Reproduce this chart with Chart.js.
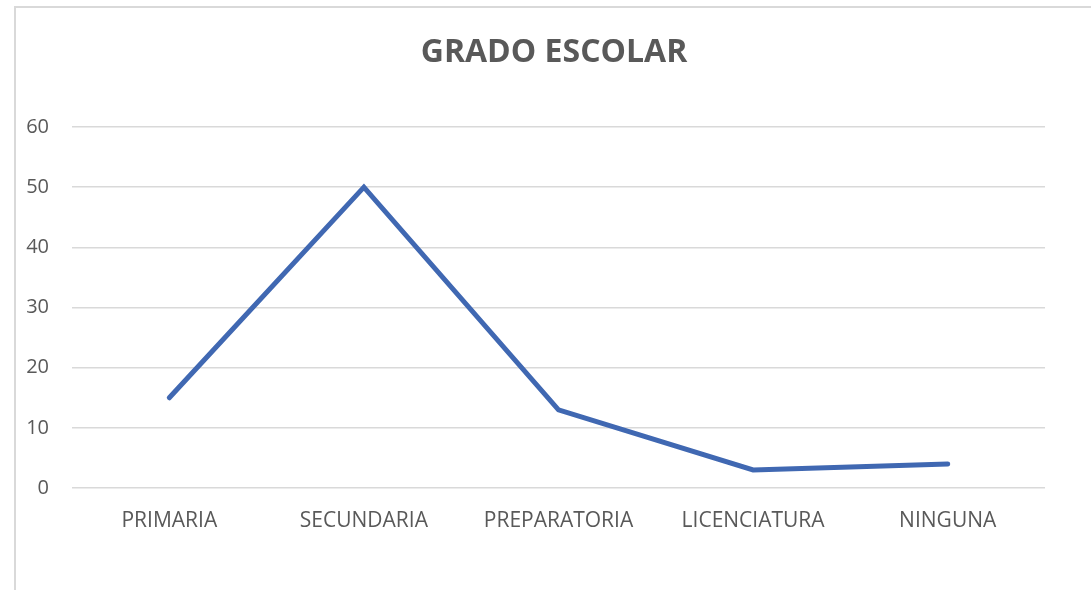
<!DOCTYPE html>
<html>
<head>
<meta charset="utf-8">
<script src="https://cdn.jsdelivr.net/npm/chart.js@4/dist/chart.umd.min.js"></script>
<style>
html,body{margin:0;padding:0;background:#fff;}
#wrap{width:1091px;height:590px;position:relative;}
</style>
</head>
<body>
<div id="wrap"><canvas id="c" width="1091" height="590"></canvas></div>
<script>
const categories = ["PRIMARIA", "SECUNDARIA", "PREPARATORIA", "LICENCIATURA", "NINGUNA"];
const values = [15, 50, 13, 3, 4];
const yTicks = [0, 10, 20, 30, 40, 50, 60];
const titleText = "GRADO ESCOLAR";

const borderPlugin = {
  id: 'frame',
  beforeDraw(chart) {
    const ctx = chart.ctx;
    ctx.save();
    ctx.strokeStyle = '#D9D9D9';
    ctx.lineWidth = 2;
    ctx.strokeRect(15, 7, 1200, 700);
    ctx.restore();
  }
};

new Chart(document.getElementById('c'), {
  type: 'line',
  data: {
    labels: categories,
    datasets: [{
      data: values,
      borderColor: '#4068B2',
      backgroundColor: '#4068B2',
      borderWidth: 5,
      pointRadius: 0,
      tension: 0,
      borderCapStyle: 'round',
      borderJoinStyle: 'miter',
      fill: false
    }]
  },
  options: {
    responsive: false,
    animation: false,
    devicePixelRatio: 1,
    layout: { padding: { left: 17, right: 0, top: 0, bottom: 0 } },
    plugins: {
      legend: { display: false },
      tooltip: { enabled: false },
      title: {
        display: true,
        text: titleText,
        color: '#595959',
        font: { family: 'Open Sans', size: 32, weight: 'bold' },
        padding: { top: 34, bottom: 54.6 }
      }
    },
    scales: {
      x: {
        offset: true,
        grid: { display: false },
        border: { display: false },
        ticks: {
          color: '#595959',
          font: { family: 'Open Sans', size: 21 },
          padding: 12,
          maxRotation: 0,
          autoSkip: false
        },
        afterFit(s) { s.height = 102; }
      },
      y: {
        min: 0,
        max: 60,
        afterBuildTicks(s) { s.ticks = yTicks.map(v => ({ value: v })); },
        grid: { color: '#D9D9D9', lineWidth: 1.5, drawTicks: false },
        border: { display: false },
        ticks: {
          color: '#595959',
          font: { family: 'Open Sans', size: 20 },
          padding: 23
        },
        afterFit(s) { s.width = 55; }
      },
      yRight: {
        position: 'right',
        display: true,
        grid: { display: false, drawTicks: false },
        border: { display: false },
        ticks: { display: false },
        afterFit(s) { s.width = 46; }
      }
    }
  },
  plugins: [borderPlugin]
});
</script>
</body>
</html>
